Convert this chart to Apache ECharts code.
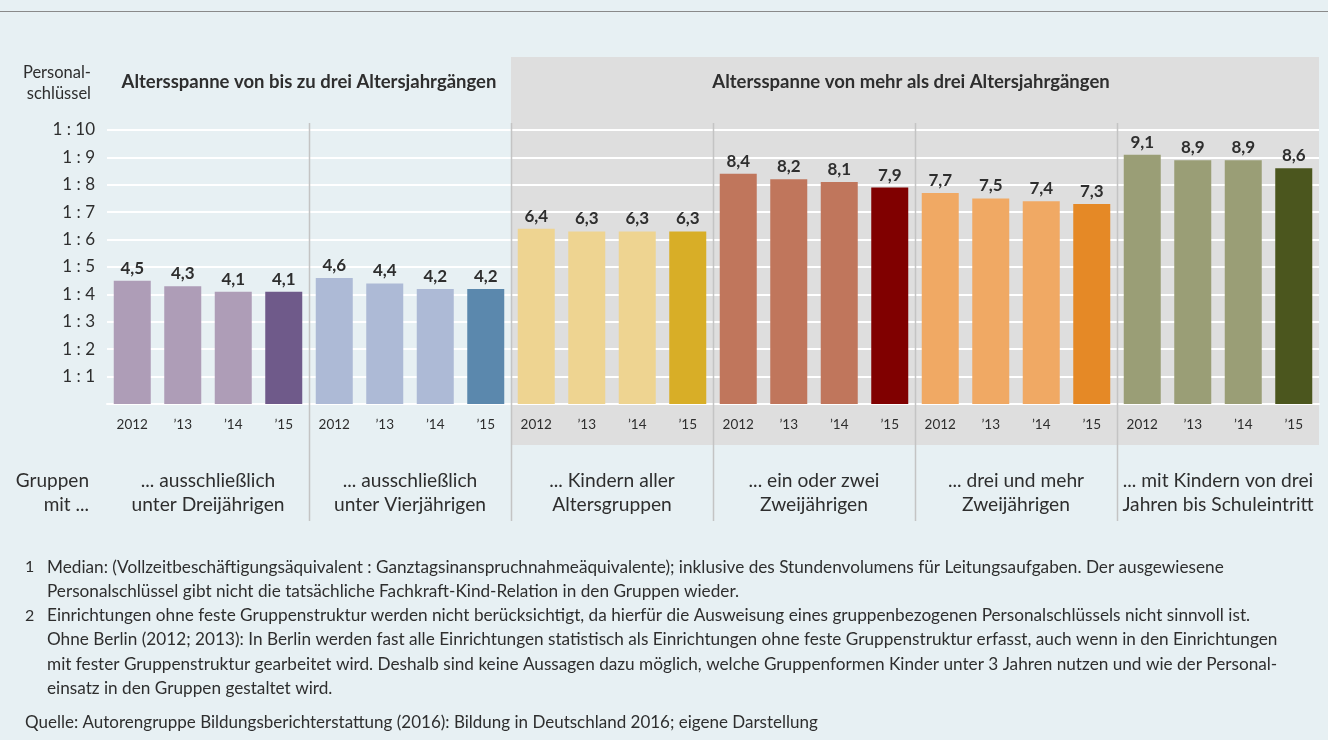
<!DOCTYPE html>
<html>
<head>
<meta charset="utf-8">
<script src="https://cdn.jsdelivr.net/npm/echarts@6/dist/echarts.min.js"></script>
<style>
  html, body { margin: 0; padding: 0; background: #e7f0f3; }
  #chart { width: 1328px; height: 740px; }
</style>
</head>
<body>
<div id="chart"></div>
<script>
// data
const years = ['2012', '’13', '’14', '’15']
const groups = [
  '... ausschließlich\nunter Dreijährigen',
  '... ausschließlich\nunter Vierjährigen',
  '... Kindern aller\nAltersgruppen',
  '... ein oder zwei\nZweijährigen',
  '... drei und mehr\nZweijährigen',
  '... mit Kindern von drei\nJahren bis Schuleintritt'
]
const values = [
  4.5, 4.3, 4.1, 4.1,
  4.6, 4.4, 4.2, 4.2,
  6.4, 6.3, 6.3, 6.3,
  8.4, 8.2, 8.1, 7.9,
  7.7, 7.5, 7.4, 7.3,
  9.1, 8.9, 8.9, 8.6
]
const lightColors = ['#ae9db7', '#adbad6', '#eed491', '#c0765c', '#f0a964', '#9a9e76']
const darkColors = ['#6f5a8a', '#5b88ad', '#d8ae27', '#800000', '#e58926', '#4b561e']
const headers = [
  'Altersspanne von bis zu drei Altersjahrgängen',
  'Altersspanne von mehr als drei Altersjahrgängen'
]
const footnotes = [
  ['1', 'Median: (Vollzeitbeschäftigungsäquivalent : Ganztagsinanspruchnahmeäquivalente); inklusive des Stundenvolumens für Leitungsaufgaben. Der ausgewiesene\nPersonalschlüssel gibt nicht die tatsächliche Fachkraft-Kind-Relation in den Gruppen wieder.'],
  ['2', 'Einrichtungen ohne feste Gruppenstruktur werden nicht berücksichtigt, da hierfür die Ausweisung eines gruppenbezogenen Personalschlüssels nicht sinnvoll ist.\nOhne Berlin (2012; 2013): In Berlin werden fast alle Einrichtungen statistisch als Einrichtungen ohne feste Gruppenstruktur erfasst, auch wenn in den Einrichtungen\nmit fester Gruppenstruktur gearbeitet wird. Deshalb sind keine Aussagen dazu möglich, welche Gruppenformen Kinder unter 3 Jahren nutzen und wie der Personal-\neinsatz in den Gruppen gestaltet wird.']
]
const source = 'Quelle: Autorengruppe Bildungsberichterstattung (2016): Bildung in Deutschland 2016; eigene Darstellung'

const FONT = '"Source Sans Pro", Lato, "Noto Sans", sans-serif'
const TXT = '#2e2e2e'

const categories = []
groups.forEach(() => years.forEach(y => categories.push(y)))

const barData = values.map((v, i) => {
  const g = Math.floor(i / 4)
  return {
    value: v,
    itemStyle: { color: i % 4 === 3 ? darkColors[g] : lightColors[g] }
  }
})

const chart = echarts.init(document.getElementById('chart'))

chart.setOption({
  backgroundColor: '#e7f0f3',
  animation: false,
  textStyle: { fontFamily: FONT },
  grid: { left: 107, right: 9, top: 130, bottom: 336 },
  xAxis: {
    type: 'category',
    data: categories,
    axisLine: { show: true, lineStyle: { color: '#ffffff', width: 2 } },
    axisTick: { show: false },
    axisLabel: { color: TXT, fontSize: 13.5, margin: 14, fontFamily: FONT, interval: 0 }
  },
  yAxis: {
    type: 'value',
    min: 0,
    max: 10,
    interval: 1,
    axisLine: { show: false },
    axisTick: { show: false },
    splitLine: { lineStyle: { color: '#ffffff', width: 2 } },
    axisLabel: {
      color: TXT,
      fontSize: 17,
      margin: 12,
      fontFamily: FONT,
      formatter: v => (v === 0 ? '' : '1 : ' + v)
    }
  },
  series: [
    {
      type: 'bar',
      data: barData,
      barWidth: 37,
      z: 3,
      label: {
        show: true,
        position: 'top',
        distance: 4,
        color: TXT,
        fontSize: 17,
        fontWeight: 'bold',
        fontFamily: FONT,
        formatter: p => String(p.value).replace('.', ',')
      }
    }
  ]
})

// decorations positioned from the axis scale
const cx = i => chart.convertToPixel({ xAxisIndex: 0 }, i)
const band = cx(1) - cx(0)
const edge = i => cx(i) - band / 2
const rightEdge = edge(23) + band

const graphics = []

// grey shaded area for second header block
graphics.push({
  type: 'rect',
  z: -10,
  silent: true,
  shape: { x: edge(8), y: 57, width: rightEdge - edge(8), height: 388 },
  style: { fill: '#dedede' }
})

// group separators
for (let g = 1; g < 6; g++) {
  const x = Math.round(edge(g * 4)) + 0.5
  graphics.push({
    type: 'line',
    z: 1,
    silent: true,
    shape: { x1: x, y1: 123, x2: x, y2: 521 },
    style: { stroke: '#c4c4c4', lineWidth: 1.5 }
  })
}

// group labels
groups.forEach((t, g) => {
  graphics.push({
    type: 'text',
    x: edge(g * 4) + band * 2,
    y: 493,
    style: {
      text: t, fill: TXT, font: '19.2px ' + FONT,
      align: 'center', verticalAlign: 'middle', lineHeight: 24
    }
  })
})

graphics.push({
  type: 'text', x: 89, y: 493,
  style: {
    text: 'Gruppen\nmit ...', fill: TXT, font: '19px ' + FONT,
    align: 'right', verticalAlign: 'middle', lineHeight: 24
  }
})

graphics.push({
  type: 'text', x: 91, y: 83,
  style: {
    text: 'Personal-\nschlüssel', fill: TXT, font: '16.5px ' + FONT,
    align: 'right', verticalAlign: 'middle', lineHeight: 21
  }
})

// headers
graphics.push({
  type: 'text', x: (edge(0) + edge(8)) / 2, y: 82,
  style: { text: headers[0], fill: TXT, font: 'bold 18.5px ' + FONT, align: 'center', verticalAlign: 'middle' }
})
graphics.push({
  type: 'text', x: (edge(8) + rightEdge) / 2 - 4, y: 82,
  style: { text: headers[1], fill: TXT, font: 'bold 18.5px ' + FONT, align: 'center', verticalAlign: 'middle' }
})

// top rule
graphics.push({
  type: 'line', silent: true,
  shape: { x1: 0, y1: 11.5, x2: 1328, y2: 11.5 },
  style: { stroke: '#8a8a8a', lineWidth: 1 }
})

// footnotes
const LH = 24.3
let fy = 567
footnotes.forEach(([n, t]) => {
  graphics.push({
    type: 'text', x: 25, y: fy,
    style: { text: n, fill: TXT, font: '16px ' + FONT, verticalAlign: 'middle' }
  })
  graphics.push({
    type: 'text', x: 47, y: fy - LH / 2,
    style: { text: t, fill: TXT, font: '17.2px ' + FONT, verticalAlign: 'top', lineHeight: LH }
  })
  fy += t.split('\n').length * LH
})

graphics.push({
  type: 'text', x: 25, y: 723,
  style: { text: source, fill: TXT, font: '17px ' + FONT, verticalAlign: 'middle' }
})

chart.setOption({ graphic: graphics })
</script>
</body>
</html>
